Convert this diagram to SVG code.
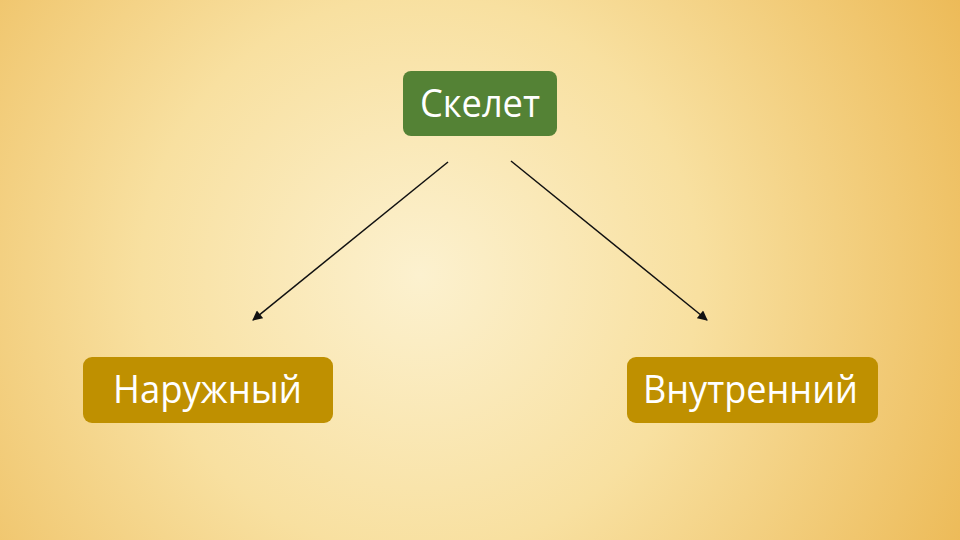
<svg xmlns="http://www.w3.org/2000/svg" width="960" height="540" viewBox="0 0 960 540">
<defs>
<radialGradient id="bg" cx="420" cy="275" r="620" gradientUnits="userSpaceOnUse">
<stop offset="0" stop-color="#FCF1CF"/>
<stop offset="0.45" stop-color="#F8E0A0"/>
<stop offset="1" stop-color="#ECB955"/>
</radialGradient>
<marker id="ah" viewBox="0 0 10 10" refX="9" refY="5" markerWidth="11" markerHeight="10" markerUnits="userSpaceOnUse" orient="auto">
<path d="M0,0 L10,5 L0,10 z" fill="#111"/>
</marker>
<style>
.lbl{font-family:"Open Sans","Noto Sans","DejaVu Sans",sans-serif;font-size:38px;fill:#FFFFFF;text-anchor:middle;}
.conn{stroke:#111;stroke-width:1.5;fill:none;marker-end:url(#ah);}
</style>
</defs>
<rect x="0" y="0" width="960" height="540" fill="url(#bg)"/>
<g id="connectors">
<line class="conn" x1="448" y1="162" x2="253" y2="320"/>
<line class="conn" x1="511" y1="161" x2="707" y2="320"/>
</g>
<g id="node-skelet">
<rect x="403" y="71" width="154" height="65" rx="8" fill="#548235"/>
<text class="lbl" x="480" y="117" textLength="120" lengthAdjust="spacingAndGlyphs">Скелет</text>
</g>
<g id="node-naruzhny">
<rect x="83" y="357" width="250" height="66" rx="9" fill="#BF9000"/>
<text class="lbl" x="207.5" y="403" textLength="189" lengthAdjust="spacingAndGlyphs">Наружный</text>
</g>
<g id="node-vnutrenny">
<rect x="627" y="357" width="251" height="66" rx="9" fill="#BF9000"/>
<text class="lbl" x="750.5" y="403" textLength="215" lengthAdjust="spacingAndGlyphs">Внутренний</text>
</g>
</svg>
